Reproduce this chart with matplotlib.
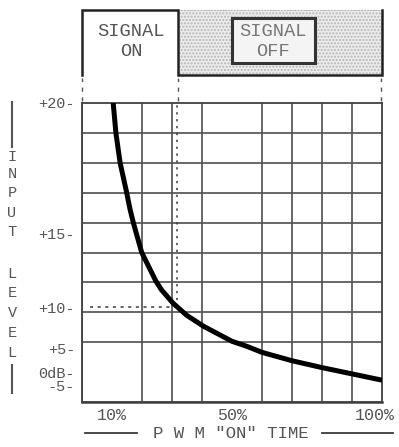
import matplotlib
matplotlib.use('Agg')
import matplotlib.pyplot as plt
import matplotlib.patches as mpatches
import matplotlib.transforms as mtransforms
from matplotlib.lines import Line2D
import numpy as np

plt.rcParams['font.family'] = ['Liberation Mono', 'DejaVu Sans Mono']

# curve: PWM "on" time (%) vs input level (linear volts, 0-10 grid)
pwm_on = [10.4, 11.3, 12.7, 14.9, 16.0, 17.1, 19.9, 24.6, 26.5, 30.4, 34.9, 40.4,
          44.9, 50.0, 55.0, 60.0, 65.0, 70.0, 80.0, 90.0, 100.0]
level_v = [10.0, 9.0, 8.0, 7.0, 6.45, 6.0, 5.0, 4.05, 3.75, 3.3, 2.9, 2.54,
           2.3, 2.03, 1.86, 1.66, 1.52, 1.38, 1.15, 0.94, 0.73]

# dB tick labels (axis is linear in voltage, so tick at 10**(dB/20))
db_ticks = [20, 15, 10, 5, 0, -5]
db_labels = ['+20', '+15', '+10', '+5', '0dB', '-5']
x_ticks = [10, 50, 100]
x_labels = ['10%', '50%', '100%']

# operating point marked with dotted lines
mark_x = 31.5
mark_db = 10

ink = '#3a3a3a'
txt = '#555555'

fig = plt.figure(figsize=(3.99, 4.47), dpi=100)
W, H = 399, 447

def fx(px):
    return px / W

def fy(py):
    return 1 - py / H

ax = fig.add_axes([fx(82), fy(402), fx(382) - fx(82), fy(103) - fy(402)])
ax.set_xlim(0, 100)
ax.set_ylim(0, 10)

# grid
ax.set_xticks(np.arange(0, 101, 10), minor=True)
ax.set_yticks(np.arange(0, 11, 1), minor=True)
ax.grid(which='minor', color='#555555', linewidth=1.25)
ax.tick_params(which='minor', length=0)

ax.set_xticks(x_ticks)
ax.set_xticklabels(x_labels, fontsize=12, color=txt)
ax.tick_params(axis='x', which='major', length=0, pad=4)
# last label sits a little left, as in the original
last = ax.get_xticklabels()[-1]
last.set_transform(last.get_transform() + mtransforms.ScaledTranslation(-0.07, 0, fig.dpi_scale_trans))

ax.set_yticks([10 ** (d / 20) for d in db_ticks])
ax.set_yticklabels([l + '-' for l in db_labels], fontsize=11, color=txt)
ax.tick_params(axis='y', which='major', length=0, pad=5)
for s in ax.spines.values():
    s.set_color('#404040')
    s.set_linewidth(1.3)
ax.spines['bottom'].set_linewidth(1.8)

# curve
ax.plot(pwm_on, level_v, color='black', linewidth=3.6, solid_joinstyle='round',
        solid_capstyle='butt', zorder=5)

# dotted markers
mark_v = 10 ** (mark_db / 20)
ax.plot([2.7, mark_x], [mark_v, mark_v], color=ink, linestyle=(0, (2, 3)), linewidth=1.1, zorder=4)
ax.plot([mark_x, mark_x], [mark_v, 10], color=ink, linestyle=(0, (1.5, 3)), linewidth=1.1, zorder=4)

# dashed drop lines between waveform and grid
for xv in [0, 32, 99.7]:
    ax.plot([xv, xv], [10.07, 10.85], color='#555555', linestyle=(0, (3, 4)),
            linewidth=1.0, clip_on=False)

# waveform box on top
axt = fig.add_axes([fx(82), fy(75), fx(382) - fx(82), fy(10) - fy(75)])
axt.set_xlim(0, 100)
axt.set_ylim(0, 1)
axt.axis('off')
off_area = mpatches.Rectangle((32, 0), 68, 1, facecolor='#ececec', edgecolor='#b5b5b5',
                              hatch='.....', linewidth=0, clip_on=False)
axt.add_patch(off_area)
axt.plot([32, 100], [1, 1], color='#b0b0b0', linestyle=(0, (1, 1.5)), linewidth=0.8, clip_on=False)
axt.plot([0, 0, 32, 32, 100, 100], [0, 1, 1, 0, 0, 1], color='#222222', linewidth=1.8,
         clip_on=False, solid_joinstyle='miter')
off_box = mpatches.Rectangle((50, 0.185), 27.7, 0.69, facecolor='#f4f4f4', edgecolor='#333333',
                             linewidth=2.2, zorder=3)
axt.add_patch(off_box)
axt.text(16.3, 0.52, 'SIGNAL\nON', ha='center', va='center', fontsize=13.5, color=txt,
         linespacing=1.25)
axt.text(63.8, 0.52, 'SIGNAL\nOFF', ha='center', va='center', fontsize=13.5, color='#777777',
         linespacing=1.25, zorder=4)

# vertical y label, letter by letter
letters = 'INPUT LEVEL'
ys = [157, 174, 193, 213, 232, None, 274, 293, 313, 333, 353]
for ch, py in zip(letters, ys):
    if py is None:
        continue
    fig.text(fx(12), fy(py), ch, ha='center', va='center', fontsize=11, color=txt)
fig.add_artist(Line2D([fx(12), fx(12)], [fy(102), fy(147)], color=txt, linewidth=1.5))
fig.add_artist(Line2D([fx(12), fx(12)], [fy(365), fy(393)], color=txt, linewidth=1.5))

# x label with rules either side
fig.text(fx(231), fy(433), 'P W M "ON" TIME', ha='center', va='center', fontsize=12.5, color=txt)
fig.add_artist(Line2D([fx(85), fx(137)], [fy(433), fy(433)], color=ink, linewidth=1.3))
fig.add_artist(Line2D([fx(322), fx(393)], [fy(433), fy(433)], color=ink, linewidth=1.3))

fig.savefig('out.png', dpi=100, facecolor='white')
